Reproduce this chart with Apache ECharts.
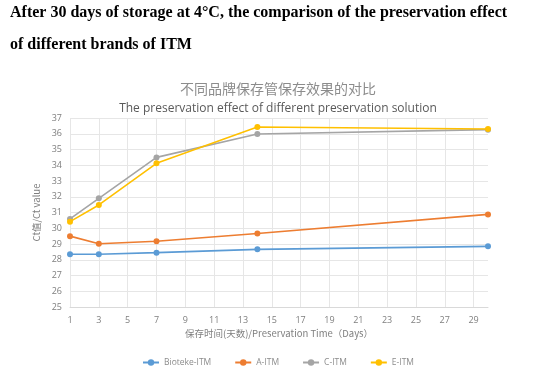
<!DOCTYPE html>
<html><head><meta charset="utf-8">
<script src="https://cdn.jsdelivr.net/npm/echarts@6/dist/echarts.min.js"></script>
<style>html,body{margin:0;padding:0;background:#fff}#c{width:556px;height:387px}</style>
</head><body><div id="c"></div>
<script>
var days = [1, 3, 7, 14, 30];
var xTickLabels = [1,3,5,7,9,11,13,15,17,19,21,23,25,27,29];
var bioteke = [28.35, 28.35, 28.45, 28.66, 28.85];
var aItm = [29.5, 29.02, 29.17, 29.67, 30.88];
var cItm = [30.59, 31.9, 34.5, 35.98, 36.26];
var eItm = [30.42, 31.48, 34.12, 36.43, 36.3];
var names = ['Bioteke-ITM', 'A-ITM', 'C-ITM', 'E-ITM'];
var colors = ['#5B9BD5', '#ED7D31', '#A5A5A5', '#FFC000'];
var values = [bioteke, aItm, cItm, eItm];

function pairs(v){ return days.map(function(d,i){ return [d, v[i]]; }); }

var chart = echarts.init(document.getElementById('c'));
chart.setOption({
  animation: false,
  graphic: [
    {type:'text', left: 10, top: 5, style:{text:'After 30 days of storage at 4°C, the comparison of the preservation effect', font:'bold 16px "Liberation Serif", serif', fill:'#000'}},
    {type:'text', left: 10, top: 37, style:{text:'of different brands of ITM', font:'bold 16px "Liberation Serif", serif', fill:'#000'}}
  ],
  title: [
    {text:'不同品牌保存管保存效果的对比', left:'center', top:77, textStyle:{fontFamily:'"Noto Sans CJK SC"', fontSize:14, fontWeight:'normal', color:'#8c8c8c'}},
    {text:'The preservation effect of different preservation solution', left:'center', top:98, textStyle:{fontFamily:'"Open Sans", sans-serif', fontSize:12, fontWeight:'normal', color:'#595959'}}
  ],
  grid: {left:70, right:68, top:118, bottom:80},
  legend: {
    data: names, bottom: 15, left: 'center', itemGap: 23, itemWidth: 16, itemHeight: 8,
    textStyle:{fontFamily:'"Open Sans", sans-serif', fontSize:8.5, color:'#8c8c8c'}
  },
  xAxis: {
    type:'value', min:1, max:30,
    name:'保存时间(天数)/Preservation Time（Days）', nameLocation:'middle', nameGap:22,
    nameTextStyle:{fontFamily:'"Noto Sans CJK SC"', fontSize:9.5, color:'#7f7f7f'},
    axisLine:{show:true, lineStyle:{color:'#d9d9d9'}},
    axisTick:{show:false, customValues: xTickLabels},
    axisLabel:{customValues: xTickLabels, fontFamily:'"Open Sans", sans-serif', fontSize:9, color:'#7f7f7f', margin:9},
    splitLine:{show:true, lineStyle:{color:'#e6e6e6'}}
  },
  yAxis: {
    type:'value', min:25, max:37, interval:1,
    name:'Ct值/Ct value', nameLocation:'middle', nameGap:20,
    nameTextStyle:{fontFamily:'"Noto Sans CJK SC"', fontSize:9.5, color:'#7f7f7f'},
    axisLine:{show:false}, axisTick:{show:false},
    axisLabel:{fontFamily:'"Open Sans", sans-serif', fontSize:9, color:'#7f7f7f', margin:8},
    splitLine:{show:true, lineStyle:{color:'#e6e6e6'}}
  },
  series: names.map(function(n,i){
    return {name:n, type:'line', data:pairs(values[i]), symbol:'circle', symbolSize:6,
      itemStyle:{color:colors[i]}, lineStyle:{color:colors[i], width:1.6}, z: 2+i};
  })
});
</script></body></html>
